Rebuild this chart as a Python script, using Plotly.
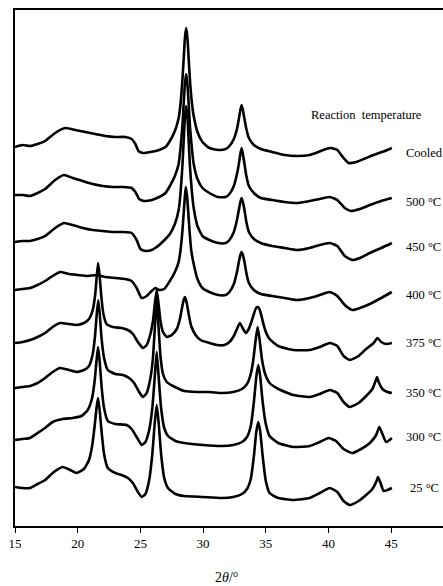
import plotly.graph_objects as go

# ---- data: 2theta (deg) and intensity (a.u., stacked offsets included) ----
tt_cooled = [15.0,15.6,16.2,16.8,17.4,18.2,19.0,19.8,20.6,21.4,22.2,23.0,23.8,24.3,24.6,24.85,25.2,25.8,26.5,27.0,
             27.35,27.75,28.05,28.2,28.35,28.45,28.55,28.65,28.75,28.85,28.95,29.1,29.25,29.55,29.95,30.5,31.2,31.8,
             32.1,32.45,32.7,32.85,32.97,33.07,33.17,33.3,33.45,33.65,34.05,34.6,35.5,36.5,37.5,38.5,39.2,39.8,40.2,
             40.7,41.2,41.6,42.2,43.0,43.8,44.5,45.05]
int_cooled = [379,381,380,382,385,393,398,396,394,392,390,389,389,387,382,375,373,374,376,379,
              385,395,408,422,446,467,488,498,488,467,446,424,410,394,384,378,376,377,
              380,387,397,407,416,421,416,407,397,388,381,377,374,371,370,371,374,377,378,
              376,368,363,364,368,372,375,378]

tt_500 = [15.0,15.6,16.2,16.8,17.4,18.2,18.9,19.6,20.4,21.2,22.0,22.8,23.6,24.3,24.6,24.9,25.3,25.9,26.5,27.0,
          27.35,27.75,28.05,28.2,28.35,28.45,28.55,28.65,28.75,28.85,28.95,29.1,29.25,29.55,29.95,30.5,31.2,31.8,
          32.1,32.45,32.7,32.85,32.97,33.07,33.17,33.3,33.45,33.65,34.05,34.6,35.5,36.5,37.5,38.5,39.3,40.1,40.7,
          41.3,41.8,42.5,43.3,44.2,45.05]
int_500 = [331,331,330,333,337,346,351,348,345,342,340,339,339,338,334,327,325,326,329,333,
           340,350,362,378,400,422,442,452,442,422,400,378,362,347,338,333,329,329,
           332,340,352,362,372,378,372,362,350,340,333,328,326,324,323,325,327,329,326,
           318,315,317,321,325,328]

tt_450 = [15.0,15.6,16.2,16.8,17.4,18.2,18.9,19.6,20.4,21.2,22.0,22.8,23.6,24.3,24.7,25.0,25.4,25.9,26.5,27.0,
          27.35,27.75,28.05,28.2,28.35,28.45,28.55,28.65,28.75,28.85,28.95,29.1,29.25,29.55,29.95,30.5,31.2,31.8,
          32.1,32.45,32.7,32.85,32.97,33.07,33.17,33.3,33.45,33.65,34.05,34.6,35.5,36.5,37.5,38.5,39.3,40.1,40.7,
          41.3,41.9,42.5,43.3,44.2,45.05]
int_450 = [284,285,285,287,290,298,303,301,298,296,295,294,294,293,286,277,275,276,281,287,
           292,302,316,333,360,385,409,420,409,385,360,335,318,300,290,286,283,283,
           286,294,306,316,324,328,324,316,304,294,287,283,280,278,276,278,281,283,280,
           270,266,268,273,278,283]

tt_400 = [15.0,15.6,16.2,16.8,17.4,18.0,18.6,19.3,20.0,20.8,21.5,22.2,23.0,23.8,24.3,24.7,25.1,25.5,25.9,26.2,
          26.5,26.9,27.35,27.75,28.05,28.2,28.35,28.45,28.55,28.62,28.72,28.82,28.92,29.05,29.25,29.55,29.95,
          30.5,31.2,31.8,32.1,32.45,32.7,32.85,32.97,33.07,33.17,33.3,33.45,33.65,34.05,34.6,35.5,36.5,37.5,38.5,
          39.3,40.1,40.7,41.3,41.9,42.5,43.3,44.2,45.05]
int_400 = [236,237,238,241,245,250,254,252,251,250,251,249,248,247,245,238,228,230,235,238,
           236,237,245,254,264,276,295,313,330,339,330,313,295,276,262,247,238,
           234,231,231,234,242,254,264,271,274,271,264,253,243,236,232,230,228,226,228,
           231,234,230,221,216,218,222,228,234]

tt_375 = [15.0,15.6,16.2,16.8,17.4,18.0,18.6,19.3,19.9,20.5,20.9,21.2,21.4,21.52,21.63,21.75,21.88,22.05,22.3,
          22.8,23.5,24.0,24.4,24.8,25.2,25.5,25.8,26.0,26.15,26.3,26.45,26.6,26.8,27.1,27.5,27.9,28.15,28.3,28.45,
          28.55,28.68,28.85,29.05,29.4,29.8,30.5,31.1,31.7,32.1,32.45,32.7,32.93,33.15,33.4,33.6,33.85,34.05,
          34.22,34.38,34.55,34.75,35.0,35.3,36.0,37.2,38.5,39.3,40.1,40.7,41.2,41.7,42.4,43.0,43.6,43.9,44.2,
          44.6,45.05]
int_375 = [183,184,186,189,193,199,203,202,201,203,207,216,232,250,263,250,230,212,202,
           199,198,196,192,184,178,181,192,205,222,236,222,205,194,189,191,197,207,217,226,
           229,224,212,200,191,186,183,181,181,184,190,197,203,198,193,196,204,212,
           218,219,215,205,194,187,180,176,176,179,183,180,170,166,170,177,183,188,184,
           182,183]

tt_350 = [15.0,15.6,16.2,16.8,17.4,18.0,18.6,19.3,19.9,20.5,20.9,21.2,21.38,21.52,21.64,21.76,21.9,22.1,22.4,
          23.0,23.6,24.1,24.5,24.9,25.2,25.5,25.8,26.0,26.15,26.3,26.45,26.6,26.8,27.1,27.6,28.5,29.5,30.5,31.5,
          32.4,33.1,33.5,33.8,34.0,34.18,34.35,34.52,34.7,34.95,35.3,36.0,37.2,38.5,39.3,40.1,40.7,41.2,41.7,
          42.4,43.0,43.5,43.75,43.87,44.0,44.3,44.7,45.05]
int_350 = [138,139,140,143,148,154,158,156,154,156,160,172,190,212,226,212,188,168,156,
           152,151,148,143,134,129,133,148,168,198,226,198,170,152,144,140,135,134,134,133,
           134,137,142,152,166,185,199,185,166,152,143,137,131,129,132,136,133,124,119,
           123,130,137,145,149,144,137,134,133]

tt_300 = [15.0,15.6,16.2,16.8,17.4,18.0,18.8,19.6,20.3,20.8,21.15,21.35,21.5,21.62,21.75,21.9,22.1,22.4,23.0,
          23.9,24.3,24.7,25.1,25.4,25.7,25.95,26.15,26.3,26.45,26.65,26.9,27.2,27.8,28.5,30.0,31.5,32.4,33.1,
          33.5,33.8,34.05,34.25,34.4,34.55,34.75,35.0,35.3,36.0,37.2,38.5,39.3,40.0,40.6,41.2,41.9,42.6,43.3,
          43.8,44.05,44.3,44.6,45.05]
int_300 = [86,87,88,93,98,104,107,108,110,116,128,145,165,179,165,140,118,105,102,
           101,97,89,81,84,96,118,150,174,150,118,98,90,85,83,81,80,81,84,
           89,100,124,150,161,150,124,102,90,83,79,80,84,88,85,77,73,77,83,
           91,99,92,84,88]

tt_25 = [15.0,15.6,16.2,16.8,17.4,18.1,18.8,19.4,19.9,20.5,20.9,21.15,21.35,21.5,21.62,21.75,21.9,22.1,22.4,
         23.0,23.5,24.0,24.4,24.8,25.1,25.4,25.7,25.95,26.15,26.3,26.45,26.65,26.9,27.2,27.8,28.5,30.0,31.5,
         32.4,33.1,33.5,33.8,34.05,34.25,34.4,34.55,34.75,35.0,35.3,36.0,37.2,38.5,39.3,40.1,40.7,41.2,41.7,
         42.4,43.0,43.5,43.8,43.95,44.15,44.4,44.7,45.05]
int_25 = [39,38,38,42,46,54,59,56,53,57,66,80,100,118,128,116,95,72,58,
          53,51,48,43,34,29,32,46,72,104,121,104,72,48,38,32,30,29,28,
          29,32,37,47,70,95,104,95,70,45,33,28,26,28,33,38,34,25,21,
          25,31,37,44,49,43,35,36,38]

series = [
    (tt_cooled, int_cooled), (tt_500, int_500), (tt_450, int_450), (tt_400, int_400),
    (tt_375, int_375), (tt_350, int_350), (tt_300, int_300), (tt_25, int_25),
]

# labels and their anchor positions (2theta, intensity)
label_texts = ["Cooled", "500 °C", "450 °C", "400 °C", "375 °C", "350 °C", "300 °C", "25 °C"]
label_x = [46.05, 46.05, 46.05, 46.05, 46.05, 46.05, 46.05, 46.3]
label_y = [373, 324, 279, 231, 183, 133, 89, 38]
header_text = "Reaction  temperature"
header_pos = (38.45, 411)

xtick_vals = [15, 20, 25, 30, 35, 40, 45]

SERIF = "Liberation Serif, Times New Roman, serif"

fig = go.Figure()
for tt, iy in series:
    fig.add_trace(go.Scatter(
        x=tt, y=iy, mode="lines",
        line=dict(color="black", width=2.6, shape="spline", smoothing=0.5),
        hoverinfo="skip", showlegend=False,
    ))

annotations = []
for t, lx, ly in zip(label_texts, label_x, label_y):
    annotations.append(dict(x=lx, y=ly, xref="x", yref="y", text=t, showarrow=False,
                            xanchor="left", yanchor="middle",
                            font=dict(family=SERIF, size=12.5, color="black")))
annotations.append(dict(x=header_pos[0], y=header_pos[1], xref="x", yref="y", text=header_text,
                        showarrow=False, xanchor="left", yanchor="middle",
                        font=dict(family=SERIF, size=12.5, color="black")))
annotations.append(dict(x=31.9, y=-0.1, xref="x", yref="paper", text="2<i>θ</i>/°",
                        showarrow=False, xanchor="center", yanchor="middle",
                        font=dict(family=SERIF, size=14, color="black")))

fig.update_layout(
    width=443, height=586,
    margin=dict(l=15, r=0, t=10, b=60),
    paper_bgcolor="white", plot_bgcolor="white",
    annotations=annotations,
    xaxis=dict(range=[15, 49.13], tickvals=xtick_vals, ticks="outside", ticklen=5,
               tickwidth=1, tickcolor="black", showline=True, linecolor="black", linewidth=1.5,
               mirror=True, showgrid=False, zeroline=False,
               tickfont=dict(family=SERIF, size=13, color="black")),
    yaxis=dict(range=[0, 516], showline=True, linecolor="black", linewidth=1.5,
               showticklabels=False, ticks="", showgrid=False, zeroline=False),
)

fig.write_html(
    "out.html",
    config={"displayModeBar": False},
    post_script="document.body.style.margin='0';document.body.style.padding='0';"
                "document.body.style.overflow='hidden';"
                "document.documentElement.style.overflow='hidden';",
)
